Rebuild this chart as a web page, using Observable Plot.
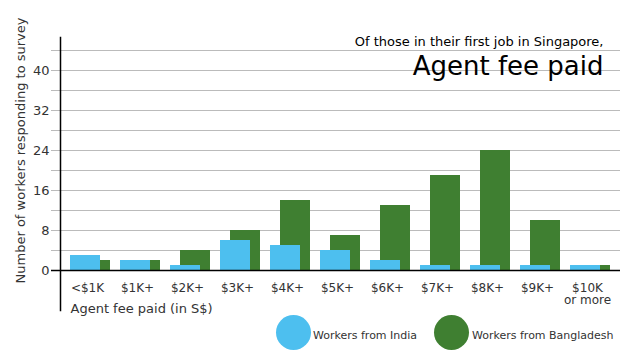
<!DOCTYPE html>
<html>
<head>
<meta charset="utf-8">
<script src="https://cdn.jsdelivr.net/npm/d3@7"></script>
<script src="https://cdn.jsdelivr.net/npm/@observablehq/plot@0.6"></script>
<style>
  body { margin: 0; background: #fff; }
  #wrap { position: relative; width: 640px; height: 360px; font-family: "DejaVu Sans", Verdana, sans-serif; }
  #wrap svg { position: absolute; left: 0; top: 0; }
  .dot { position: absolute; width: 35px; height: 35px; border-radius: 50%; }
  .lab { position: absolute; font-size: 11px; line-height: 11px; color: #333; white-space: nowrap; }
</style>
</head>
<body>
<div id="wrap"></div>
<script>
const categories = ["<$1K", "$1K+", "$2K+", "$3K+", "$4K+", "$5K+", "$6K+", "$7K+", "$8K+", "$9K+", "$10K\nor more"];
const india = [3, 2, 1, 6, 5, 4, 2, 1, 1, 1, 1];
const bangladesh = [2, 2, 4, 8, 14, 7, 13, 19, 24, 10, 1];
const yTicks = [0, 8, 16, 24, 32, 40];
const gridValues = [4, 8, 12, 16, 20, 24, 28, 32, 36, 40, 44];
const seriesNames = ["Workers from India", "Workers from Bangladesh"];
const seriesColors = ["#4dbfef", "#3f7f31"];
const titleLine1 = "Of those in their first job in Singapore,";
const titleLine2 = "Agent fee paid";
const xLabel = "Agent fee paid (in S$)";
const yLabel = "Number of workers responding to survey";

const indiaRows = categories.map((c, i) => ({cat: c, value: india[i]}));
const bangRows = categories.map((c, i) => ({cat: c, value: bangladesh[i]}));

const chart = Plot.plot({
  width: 640,
  height: 360,
  marginLeft: 60,
  marginRight: 20,
  marginTop: 37,
  marginBottom: 50,
  style: {fontFamily: "DejaVu Sans, Verdana, sans-serif", background: "transparent"},
  x: {domain: categories, range: [70, 620], padding: 0, axis: null},
  y: {domain: [-8, 46.6], axis: null},
  marks: [
    Plot.ruleY(gridValues, {stroke: "#bbb", strokeWidth: 1, insetLeft: -9}),
    Plot.barY(bangRows, {x: "cat", y: "value", fill: seriesColors[1], insetLeft: 10, insetRight: 10}),
    Plot.barY(indiaRows, {x: "cat", y: "value", fill: seriesColors[0], insetLeft: 0, insetRight: 20}),
    Plot.ruleY([0], {stroke: "#000", strokeWidth: 1.5, insetLeft: -9}),
    Plot.frame({anchor: "left", stroke: "#000", strokeWidth: 1.5}),
    Plot.axisY(yTicks, {anchor: "left", tickSize: 0, tickPadding: 11, fontSize: 13, fill: "#333", label: null}),
    Plot.text(categories, {x: d => d, y: () => 0, dx: -8, dy: 12.5, lineAnchor: "top", lineHeight: 1, fontSize: 12, fill: "#333"}),
    Plot.text([xLabel], {frameAnchor: "bottom-left", dx: 10, dy: -2, textAnchor: "start", lineAnchor: "middle", fontSize: 13, fill: "#333"}),
    Plot.text([yLabel], {frameAnchor: "left", rotate: -90, dx: -40, dy: -23.5, textAnchor: "middle", lineAnchor: "middle", fontSize: 13, fill: "#333"}),
    Plot.text([titleLine1], {frameAnchor: "top-right", dx: -17, dy: 4.3, textAnchor: "end", lineAnchor: "middle", fontSize: 13, fill: "#000"}),
    Plot.text([titleLine2], {frameAnchor: "top-right", dx: -17, dy: 28.7, textAnchor: "end", lineAnchor: "middle", fontSize: 26, fill: "#000"})
  ]
});

const wrap = document.getElementById("wrap");
wrap.appendChild(chart);

const legendPos = [{cx: 293.5, tx: 313}, {cx: 451.5, tx: 472}];
seriesNames.forEach((name, i) => {
  const d = document.createElement("div");
  d.className = "dot";
  d.style.left = (legendPos[i].cx - 17.5) + "px";
  d.style.top = "315px";
  d.style.background = seriesColors[i];
  wrap.appendChild(d);
  const t = document.createElement("div");
  t.className = "lab";
  t.style.left = legendPos[i].tx + "px";
  t.style.top = "330px";
  t.textContent = name;
  wrap.appendChild(t);
});
</script>
</body>
</html>
